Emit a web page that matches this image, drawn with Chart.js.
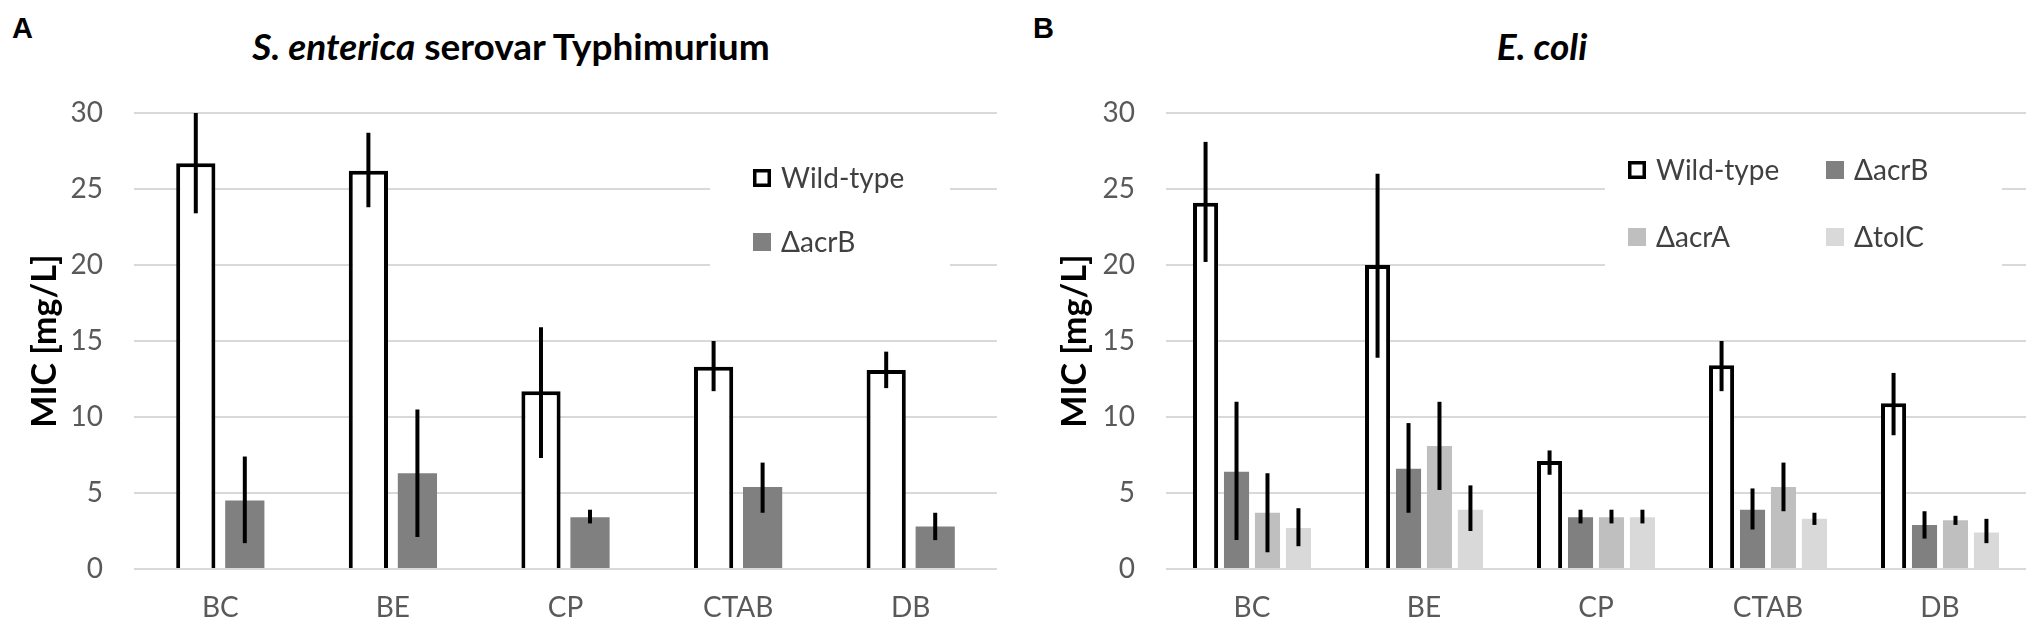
<!DOCTYPE html>
<html>
<head>
<meta charset="utf-8">
<script src="https://cdn.jsdelivr.net/npm/chart.js@4.4.1/dist/chart.umd.min.js"></script>
<style>
  html, body { margin: 0; padding: 0; background: #fff; }
  body { width: 2033px; height: 625px; position: relative; overflow: hidden; }
  canvas { position: absolute; top: 0; }
  #chartA { left: 0; }
  #chartB { left: 1017px; }
  .letter { position: absolute; top: 14px; font: bold 29px "Liberation Sans", Arial, sans-serif; line-height: 1; color: #000; }
  .title { position: absolute; top: 27px; font: bold 37px Lato, sans-serif; line-height: 1; color: #000;
           transform: translateX(-50%); white-space: nowrap; }
</style>
</head>
<body>
<div class="letter" style="left:12px">A</div>
<div class="letter" style="left:1033px">B</div>
<div class="title" style="left:511px"><i>S. enterica</i> serovar Typhimurium</div>
<div class="title" style="left:1542px"><i>E. coli</i></div>
<canvas id="chartA" width="1017" height="625"></canvas>
<canvas id="chartB" width="1016" height="625"></canvas>
<script>
const categories = ["BC", "BE", "CP", "CTAB", "DB"];
const yTicks = { min: 0, max: 30, step: 5 };

// S. enterica serovar Typhimurium
const sWild      = [26.7, 26.2, 11.7, 13.3, 13.1];
const sWildLow   = [23.4, 23.8,  7.3, 11.7, 11.9];
const sWildHigh  = [30.0, 28.7, 15.9, 15.0, 14.3];
const sAcrB      = [4.5, 6.3, 3.4, 5.4, 2.8];
const sAcrBLow   = [1.7, 2.1, 3.0, 3.7, 1.9];
const sAcrBHigh  = [7.4, 10.5, 3.9, 7.0, 3.7];

// E. coli
const eWild      = [24.1, 20.0, 7.1, 13.4, 10.9];
const eWildLow   = [20.2, 13.9, 6.2, 11.7, 8.8];
const eWildHigh  = [28.1, 26.0, 7.8, 15.0, 12.9];
const eAcrB      = [6.4, 6.6, 3.4, 3.9, 2.9];
const eAcrBLow   = [1.9, 3.7, 3.0, 2.6, 2.0];
const eAcrBHigh  = [11.0, 9.6, 3.9, 5.3, 3.8];
const eAcrA      = [3.7, 8.1, 3.4, 5.4, 3.2];
const eAcrALow   = [1.1, 5.2, 3.0, 3.8, 2.9];
const eAcrAHigh  = [6.3, 11.0, 3.9, 7.0, 3.5];
const eTolC      = [2.7, 3.9, 3.4, 3.3, 2.4];
const eTolCLow   = [1.5, 2.5, 3.0, 2.9, 1.7];
const eTolCHigh  = [4.0, 5.5, 3.9, 3.7, 3.3];

const FONT = "Lato";
const TICK_COLOR = "#595959";

// vertical error lines, no caps
const errorBars = {
  id: "errorBars",
  afterDatasetsDraw(chart, args, opts) {
    const { ctx } = chart;
    const y = chart.scales.y;
    ctx.save();
    ctx.strokeStyle = "#000";
    ctx.lineWidth = opts.width;
    chart.data.datasets.forEach((ds, i) => {
      chart.getDatasetMeta(i).data.forEach((bar, j) => {
        ctx.beginPath();
        ctx.moveTo(bar.x, y.getPixelForValue(ds.errLow[j]));
        ctx.lineTo(bar.x, y.getPixelForValue(ds.errHigh[j]));
        ctx.stroke();
      });
    });
    ctx.restore();
  }
};

// legend box sitting inside the plot, white background over the grid
const boxLegend = {
  id: "boxLegend",
  beforeDatasetsDraw(chart, args, o) {
    const { ctx } = chart;
    ctx.save();
    ctx.fillStyle = "#fff";
    ctx.fillRect(o.left, o.top, o.width, o.height);
    ctx.font = "28px " + FONT;
    ctx.textBaseline = "middle";
    ctx.textAlign = "left";
    const s = 18;
    chart.data.datasets.forEach((ds, i) => {
      const col = i % o.columns, row = Math.floor(i / o.columns);
      const x = o.left + o.padX + col * o.colWidth;
      const yc = o.top + o.padY + row * o.rowHeight;
      if (ds.borderWidth) {
        ctx.fillStyle = "#fff";
        ctx.fillRect(x, yc - s / 2, s, s);
        ctx.strokeStyle = ds.borderColor;
        ctx.lineWidth = 3.5;
        ctx.strokeRect(x + 1.75, yc - s / 2 + 1.75, s - 3.5, s - 3.5);
      } else {
        ctx.fillStyle = ds.backgroundColor;
        ctx.fillRect(x, yc - s / 2, s, s);
      }
      ctx.fillStyle = "#404040";
      ctx.fillText(ds.label, x + s + 10, yc + 1);
    });
    ctx.restore();
  }
};

function wildSet(data, lo, hi) {
  return { label: "Wild-type", data, errLow: lo, errHigh: hi,
           backgroundColor: "#fff", borderColor: "#000", borderWidth: 4, borderSkipped: "start" };
}
function mutSet(label, color, data, lo, hi) {
  return { label, data, errLow: lo, errHigh: hi, backgroundColor: color, borderWidth: 0 };
}

function makeChart(id, datasets, p) {
  return new Chart(document.getElementById(id), {
    type: "bar",
    data: { labels: categories, datasets },
    plugins: [boxLegend, errorBars],
    options: {
      responsive: false,
      animation: false,
      devicePixelRatio: 1,
      layout: { padding: { top: 113, bottom: 0, left: 0, right: p.right } },
      datasets: { bar: { categoryPercentage: p.catPct, barPercentage: p.barPct } },
      plugins: {
        legend: { display: false },
        tooltip: { enabled: false },
        errorBars: { width: 4 },
        boxLegend: p.legend
      },
      scales: {
        x: {
          grid: { display: false },
          border: { display: false },
          ticks: { color: TICK_COLOR, padding: 14, font: { family: FONT, size: 28 } },
          afterFit(scale) { scale.height = 56; }
        },
        y: {
          min: yTicks.min, max: yTicks.max,
          grid: { color: "#d9d9d9", lineWidth: 2, drawTicks: false },
          border: { display: false },
          ticks: { stepSize: yTicks.step, color: TICK_COLOR, padding: 31, font: { family: FONT, size: 28 } },
          title: { display: true, text: "MIC [mg/L]", color: "#000",
                   padding: { top: p.titlePad, bottom: 0 }, font: { family: FONT, size: 34, weight: "bold" } },
          afterFit(scale) { scale.width = p.yWidth; }
        }
      }
    }
  });
}

makeChart("chartA", [
  wildSet(sWild, sWildLow, sWildHigh),
  mutSet("\u0394acrB", "#808080", sAcrB, sAcrBLow, sAcrBHigh)
], {
  right: 20, yWidth: 134, titlePad: 25, catPct: 0.568, barPct: 0.8,
  legend: { left: 710, top: 130, width: 240, height: 145, columns: 1, colWidth: 0,
            padX: 43, padY: 48, rowHeight: 64 }
});

makeChart("chartB", [
  wildSet(eWild, eWildLow, eWildHigh),
  mutSet("\u0394acrB", "#808080", eAcrB, eAcrBLow, eAcrBHigh),
  mutSet("\u0394acrA", "#bfbfbf", eAcrA, eAcrALow, eAcrAHigh),
  mutSet("\u0394tolC", "#d9d9d9", eTolC, eTolCLow, eTolCHigh)
], {
  right: 7, yWidth: 149, titlePad: 38, catPct: 0.72, barPct: 0.81,
  legend: { left: 588, top: 130, width: 397, height: 145, columns: 2, colWidth: 198,
            padX: 23, padY: 40, rowHeight: 67 }
});
</script>
</body>
</html>
